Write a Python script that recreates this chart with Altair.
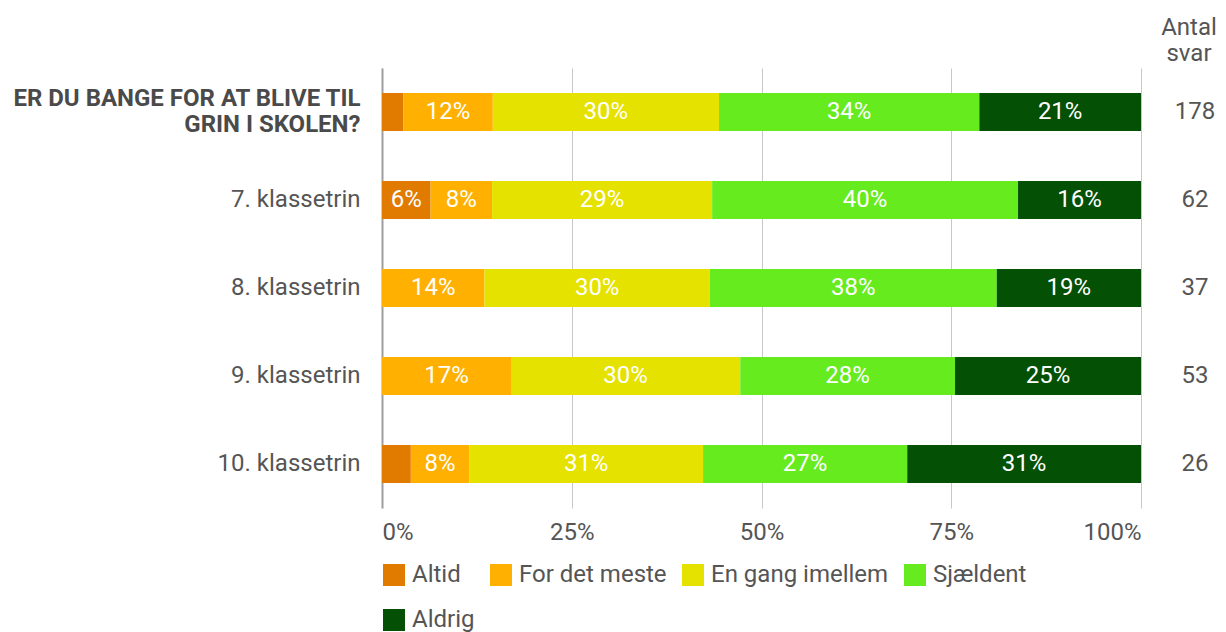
import altair as alt
import pandas as pd

categories = ["ER DU BANGE FOR AT BLIVE TIL|GRIN I SKOLEN?", "7. klassetrin", "8. klassetrin",
              "9. klassetrin", "10. klassetrin"]
series = ["Altid", "For det meste", "En gang imellem", "Sjældent", "Aldrig"]
colors = ["#E07B00", "#FFB000", "#E6E200", "#66EB1F", "#045004"]

altid = [2.8, 6.4, 0.0, 0.0, 3.8]
for_det_meste = [11.8, 8.1, 13.5, 17.0, 7.7]
en_gang_imellem = [29.8, 29.0, 29.7, 30.2, 30.8]
sjaeldent = [34.3, 40.3, 37.8, 28.3, 26.9]
aldrig = [21.3, 16.2, 19.0, 24.5, 30.8]
antal_svar = [178, 62, 37, 53, 26]
tick_values = [0, 25, 50, 75, 100]

values = [altid, for_det_meste, en_gang_imellem, sjaeldent, aldrig]
rows = []
for ci, cat in enumerate(categories):
    start = 0.0
    for si, s in enumerate(series):
        v = values[si][ci]
        rows.append({"cat": cat, "series": s, "order": si, "value": v,
                     "x0": start, "x1": start + v})
        start += v
df = pd.DataFrame(rows)
counts_df = pd.DataFrame({"cat": categories, "n": antal_svar})

W, H = 759, 440
FS = 24
is_title = "indexof(datum.label, '|') >= 0"

y_enc = alt.Y("cat:N", sort=categories,
              scale=alt.Scale(paddingInner=0.568, paddingOuter=0.284),
              axis=alt.Axis(title=None, ticks=False, domain=True, domainColor="#9e9e9e",
                            domainWidth=2, labelPadding=22, labelFontSize=FS,
                            labelLineHeight=26, labelLimit=420,
                            labelExpr="split(datum.label, '|')",
                            labelOffset=alt.expr(f"{is_title} ? -13 : 0"),
                            labelFontWeight=alt.expr(f"{is_title} ? 'bold' : 'normal'"),
                            labelColor=alt.expr(f"{is_title} ? '#4a4a4a' : '#555555'")))

bars = alt.Chart(df).mark_bar().encode(
    y=y_enc,
    x=alt.X("x0:Q", scale=alt.Scale(domain=[0, 100], nice=False),
            axis=alt.Axis(title=None, values=tick_values, labelExpr="datum.value + '%'",
                          ticks=False, domain=False, grid=True, gridColor="#c8c8c8",
                          gridWidth=1, labelFontSize=FS, labelColor="#555555",
                          labelPadding=12)),
    x2="x1:Q",
    color=alt.Color("series:N", sort=series,
                    scale=alt.Scale(domain=series, range=colors),
                    legend=alt.Legend(title=None, orient="none", legendX=0, legendY=495,
                                      direction="horizontal", columns=4, gridAlign="each",
                                      symbolType="square", symbolSize=484,
                                      symbolStrokeWidth=0, labelFontSize=FS,
                                      labelColor="#555555", labelOffset=6, labelLimit=300,
                                      columnPadding=14, rowPadding=21, padding=0)),
    order="order:Q",
)

labels = alt.Chart(df).transform_filter("datum.value >= 5").transform_calculate(
    mid="(datum.x0 + datum.x1) / 2",
    txt="round(datum.value) + '%'",
).mark_text(color="white", fontSize=FS, baseline="middle").encode(
    y=alt.Y("cat:N", sort=categories),
    x=alt.X("mid:Q"),
    text="txt:N",
)

counts = alt.Chart(counts_df).mark_text(fontSize=FS, color="#555555", baseline="middle").encode(
    y=alt.Y("cat:N", sort=categories),
    x=alt.value(W + 54),
    text="n:Q",
)

header = alt.Chart(pd.DataFrame({"t": ["Antal\nsvar"]})).mark_text(
    fontSize=FS, color="#555555", baseline="middle", lineBreak="\n", lineHeight=26
).encode(x=alt.value(W + 48), y=alt.value(-40), text="t:N")

chart = alt.layer(bars, labels, counts, header).properties(
    width=W, height=H,
    autosize=alt.AutoSizeParams(type="none"),
    padding={"left": 374, "top": 60, "right": 77, "bottom": 124},
).configure(font="Roboto").configure_view(stroke=None)

chart.save("out.html", embed_options={"renderer": "svg", "actions": False})
